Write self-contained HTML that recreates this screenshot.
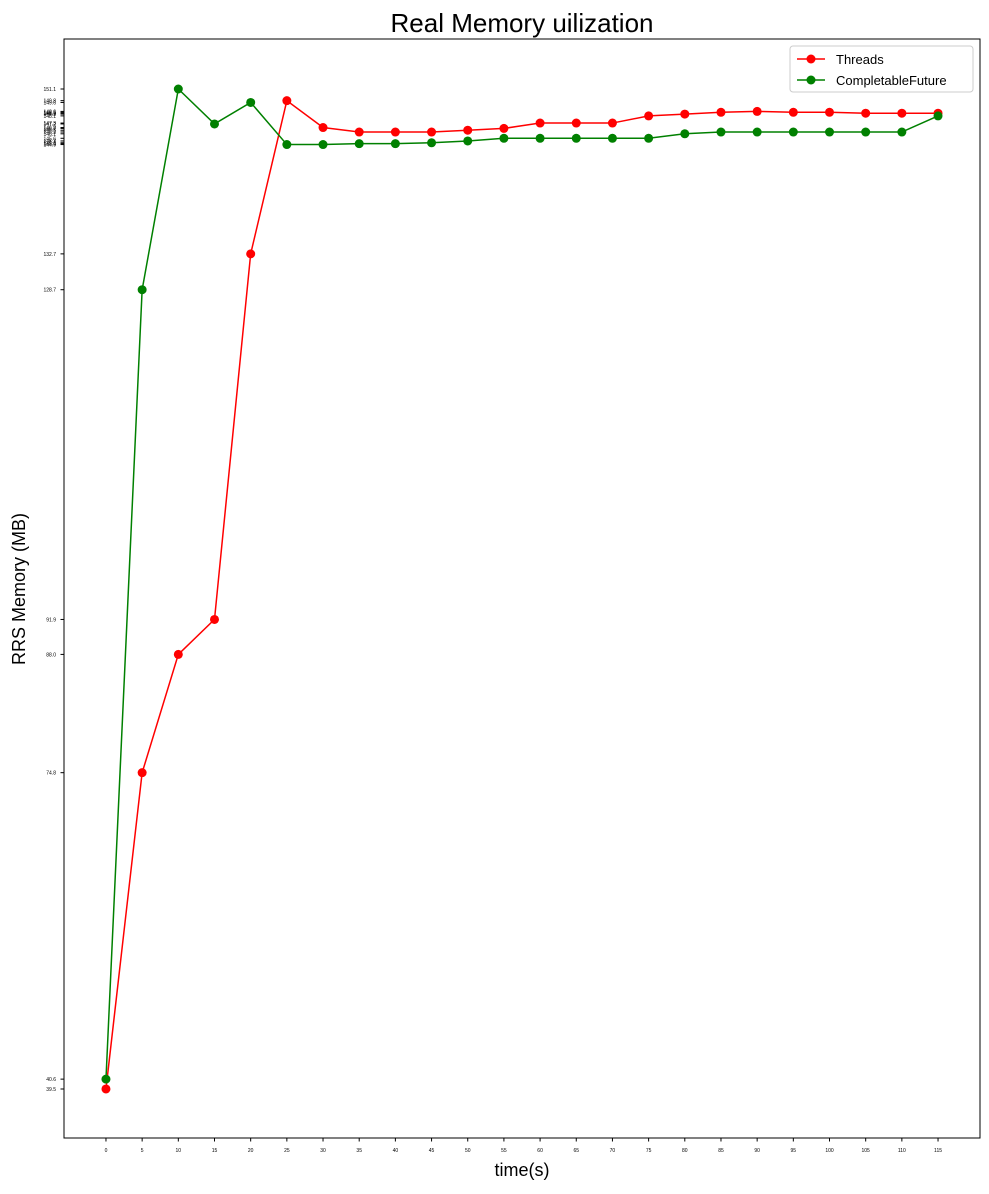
<!DOCTYPE html>
<html><head><meta charset="utf-8"><style>
body{margin:0;background:#fff;font-family:"Liberation Sans",sans-serif;}
</style></head><body>
<svg id="chart" width="989" height="1189" xmlns="http://www.w3.org/2000/svg" font-family="Liberation Sans, sans-serif"></svg>
<script>
const times=[0,5,10,15,20,25,30,35,40,45,50,55,60,65,70,75,80,85,90,95,100,105,110,115];
const threads=[39.5,74.8,88.0,91.9,132.7,149.8,146.8,146.3,146.3,146.3,146.5,146.7,147.3,147.3,147.3,148.1,148.3,148.5,148.6,148.5,148.5,148.4,148.4,148.4];
const cf=[40.6,128.7,151.1,147.2,149.6,144.9,144.9,145.0,145.0,145.1,145.3,145.6,145.6,145.6,145.6,145.6,146.1,146.3,146.3,146.3,146.3,146.3,146.3,148.1];
const svg=document.getElementById('chart');
const NS='http://www.w3.org/2000/svg';
const L=64,R=980,T=39,B=1138;
const xMin=-5.8,xMax=120.8,yMin=34.03,yMax=156.68;
const X=v=>L+(v-xMin)/(xMax-xMin)*(R-L);
const Y=v=>B-(v-yMin)/(yMax-yMin)*(B-T);
function mk(tag,attrs,parent){const e=document.createElementNS(NS,tag);for(const k in attrs)e.setAttribute(k,attrs[k]);(parent||svg).appendChild(e);return e;}
const frame=mk('rect',{x:L,y:T,width:R-L,height:B-T,fill:'none',stroke:'#000','stroke-width':1});


// x ticks
times.forEach(t=>{
 const l=mk('line',{x1:X(t),x2:X(t),y1:B,y2:B+3.5,stroke:'#000'});
 
 
 const tx=mk('text',{x:X(t),y:B+14,'font-size':5,'text-anchor':'middle'});
 tx.textContent=t;
 
 
});
// y ticks: all unique values
const yt=[...new Set(threads.concat(cf))];
yt.forEach(v=>{
 const l=mk('line',{x1:L-3.5,x2:L,y1:Y(v),y2:Y(v),stroke:'#000'});
 
 
 const tx=mk('text',{x:L-8,y:Y(v)+2,'font-size':5,'text-anchor':'end'});
 tx.textContent=v.toFixed(1);
 
 
});
function series(vals,color,name){
 const p=mk('polyline',{points:vals.map((v,i)=>X(times[i])+','+Y(v)).join(' '),fill:'none',stroke:color,'stroke-width':1.5});
 
 
 vals.forEach((v,i)=>{
  const c=mk('circle',{cx:X(times[i]),cy:Y(v),r:4.5,fill:color});
  
  
 });
}
series(threads,'#ff0000','threads');
series(cf,'#008000','completablefuture');
const title=mk('text',{x:522,y:32,'font-size':26,'text-anchor':'middle'});
title.textContent='Real Memory uilization';


const xl=mk('text',{x:522,y:1176,'font-size':18,'text-anchor':'middle'});
xl.textContent='time(s)';


const yl=mk('text',{x:25,y:589,'font-size':18,'text-anchor':'middle',transform:'rotate(-90 25 589)'});
yl.textContent='RRS Memory (MB)';


// legend
const lg=mk('g',{});


mk('rect',{x:790,y:46,width:183,height:46,rx:3,fill:'#fff',stroke:'#ccc'},lg);
[['Threads','#ff0000',59],['CompletableFuture','#008000',80]].forEach(([n,c,y])=>{
 const g=mk('g',{},lg);
 
 
 mk('line',{x1:797,x2:825,y1:y,y2:y,stroke:c,'stroke-width':1.5},g);
 mk('circle',{cx:811,cy:y,r:4.5,fill:c},g);
 const t=mk('text',{x:836,y:y+5,'font-size':13},g);t.textContent=n;
});
</script>
</body></html>
